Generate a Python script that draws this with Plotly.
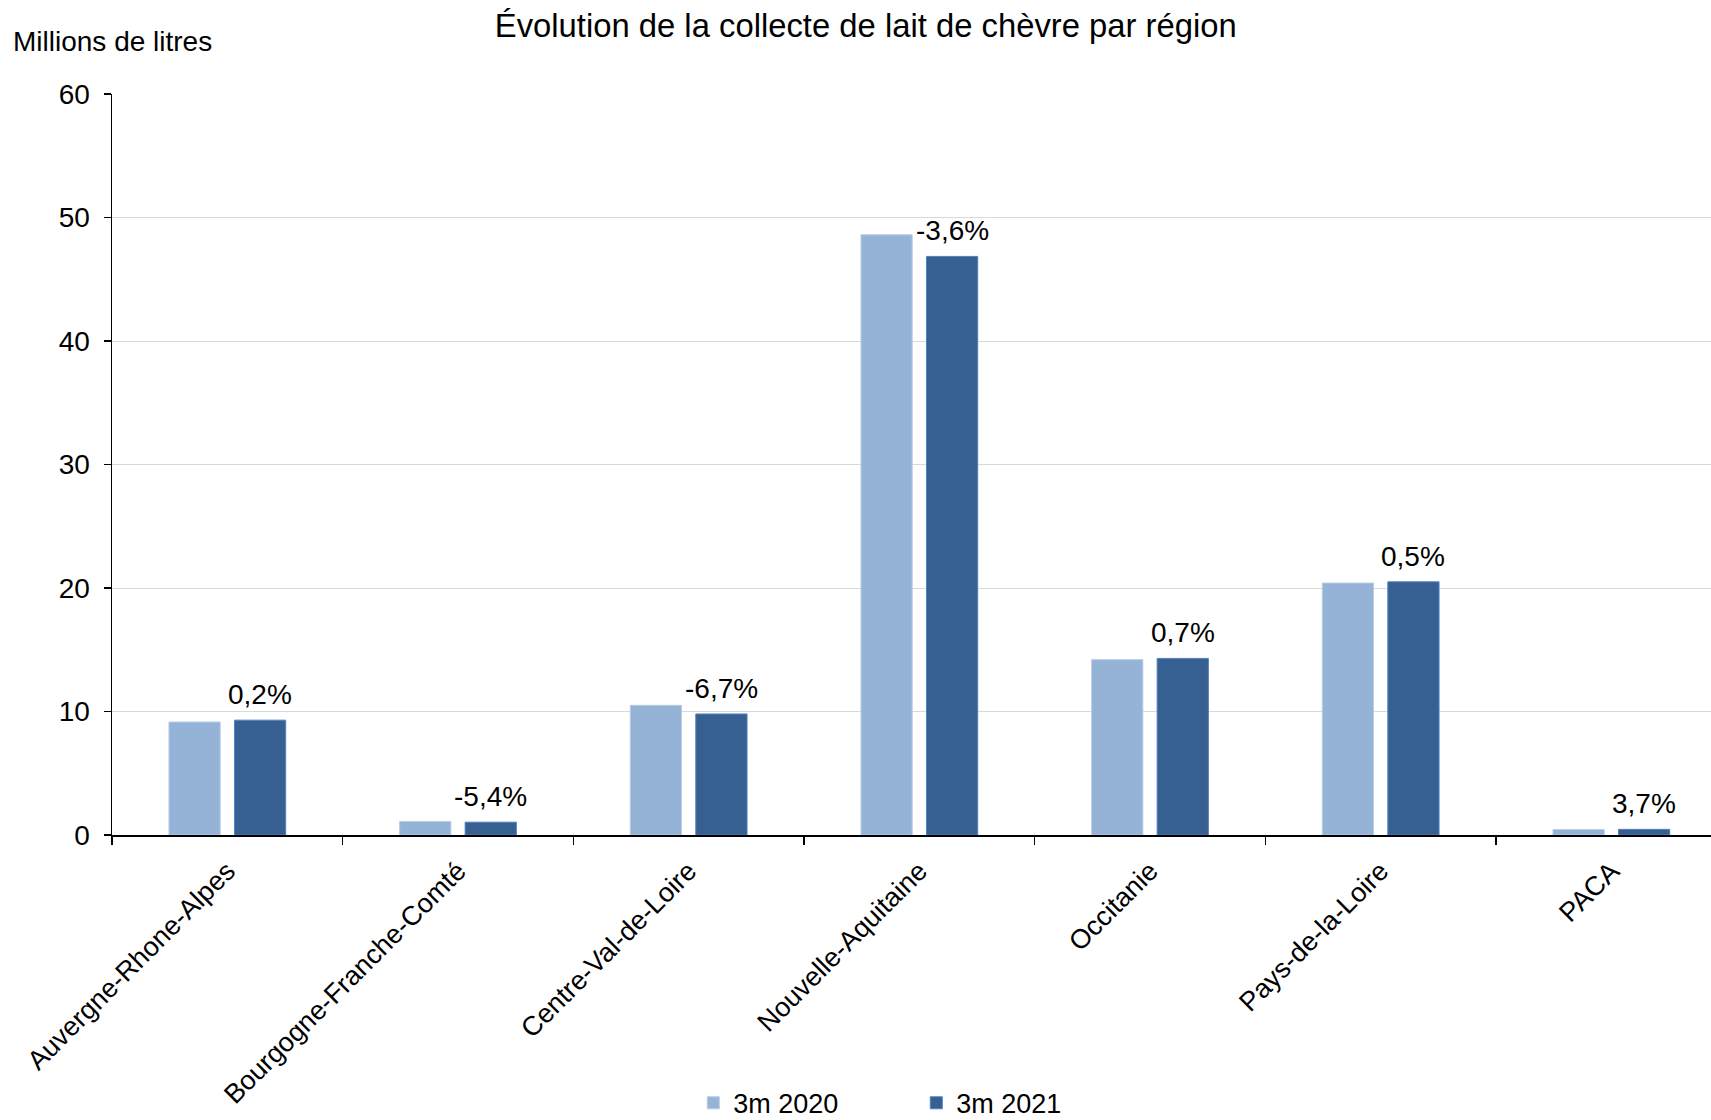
import plotly.graph_objects as go

regions = ["Auvergne-Rhone-Alpes", "Bourgogne-Franche-Comté", "Centre-Val-de-Loire",
           "Nouvelle-Aquitaine", "Occitanie", "Pays-de-la-Loire", "PACA"]
vals_2020 = [9.15, 1.10, 10.5, 48.6, 14.2, 20.4, 0.44]
vals_2021 = [9.30, 1.04, 9.8, 46.85, 14.3, 20.5, 0.456]
variation = ["0,2%", "-5,4%", "-6,7%", "-3,6%", "0,7%", "0,5%", "3,7%"]
y_ticks = [0, 10, 20, 30, 40, 50, 60]

FONT = "Liberation Sans, Arial, sans-serif"

W, H = 1711, 1120
ML, MR, MT, MB = 112, 0, 94, 285
X_RANGE = [-0.5, 6.432]
BARGAP, BARGROUPGAP = 0.432, 0.218

# pixel offset of the second bar of each group from the category centre
cat_px = (W - ML - MR) / (X_RANGE[1] - X_RANGE[0])
offset_2021 = (1 - BARGAP) / 4 * cat_px

fig = go.Figure()
fig.add_trace(go.Bar(
    x=regions, y=vals_2020, name="3m 2020",
    marker=dict(color="#95B3D7", line=dict(color="#B8CCE4", width=1)),
    hoverinfo="skip",
))
fig.add_trace(go.Bar(
    x=regions, y=vals_2021, name="3m 2021",
    marker=dict(color="#366092", line=dict(color="#4F81BD", width=1)),
    hoverinfo="skip",
))

annotations = [dict(text="Millions de litres", xref="paper", yref="paper",
                    x=-0.063, y=1.071, xanchor="left", yanchor="middle",
                    showarrow=False, font=dict(family=FONT, size=28, color="#000000"))]
for reg, v, lab in zip(regions, vals_2021, variation):
    annotations.append(dict(text=lab, x=reg, y=v, xref="x", yref="y",
                            xshift=offset_2021, yshift=8,
                            xanchor="center", yanchor="bottom", showarrow=False,
                            font=dict(family=FONT, size=28, color="#000000")))

fig.update_layout(
    template="none",
    width=W, height=H,
    margin=dict(l=ML, r=MR, t=MT, b=MB, autoexpand=False),
    paper_bgcolor="white", plot_bgcolor="white",
    font=dict(family=FONT, size=27, color="#000000"),
    barmode="group", bargap=BARGAP, bargroupgap=BARGROUPGAP,
    title=dict(text="Évolution de la collecte de lait de chèvre par région",
               x=0.506, xanchor="center", y=1 - 26 / H, yanchor="middle",
               font=dict(family=FONT, size=32.8, color="#000000")),
    showlegend=True,
    legend=dict(orientation="h", x=0.503, xanchor="center", y=-0.362, yanchor="middle",
                font=dict(family=FONT, size=27, color="#000000"),
                entrywidth=178, entrywidthmode="pixels", traceorder="normal",
                bgcolor="rgba(0,0,0,0)"),
    annotations=annotations,
)
fig.update_xaxes(
    range=X_RANGE, automargin=False, showline=True, linecolor="#000000", linewidth=1.5,
    ticks="outside", tickson="boundaries", ticklen=8, tickcolor="#000000", tickwidth=1.5,
    tickangle=-45, tickfont=dict(family=FONT, size=27), showgrid=False, zeroline=False,
    ticklabelstandoff=8,
)
fig.update_yaxes(
    range=[0, 60], tickvals=y_ticks, automargin=False, showline=True,
    linecolor="#000000", linewidth=1.5,
    ticks="outside", ticklen=7, tickcolor="#000000", tickwidth=1.5,
    showgrid=True, gridcolor="#D9D9D9", gridwidth=1, zeroline=False,
    tickfont=dict(family=FONT, size=28), ticklabelstandoff=8,
)

fig.write_html(
    "out.html",
    config={"displayModeBar": False, "staticPlot": True},
    post_script="document.body.style.margin='0';document.body.style.overflow='hidden';",
)
